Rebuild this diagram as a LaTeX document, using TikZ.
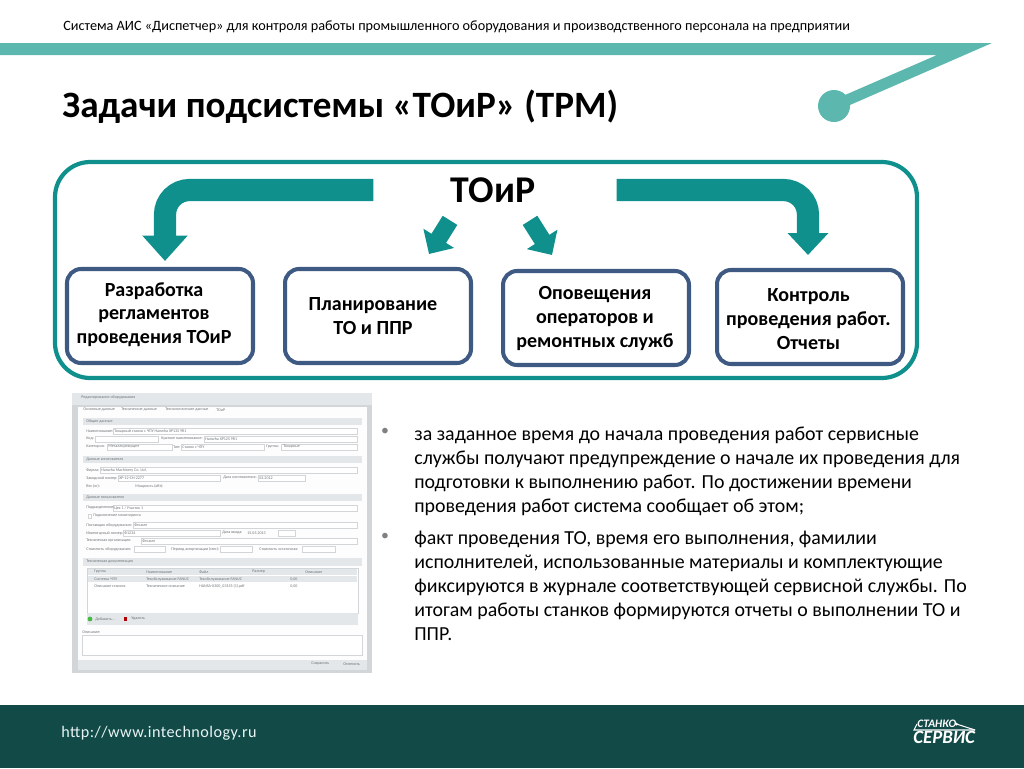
\documentclass[tikz,border=0pt]{standalone}
\usepackage{xcolor}
\usepackage{fontspec}
\setmainfont{Carlito}
\usetikzlibrary{arrows.meta, calc}
\definecolor{servisteal}{HTML}{0F908C}
\definecolor{servislight}{HTML}{5CB8AE}
\definecolor{servisdark}{HTML}{124A48}
\definecolor{servisblue}{HTML}{3F5A82}
\definecolor{scrgray}{HTML}{D3D6D8}
\definecolor{scrband}{HTML}{E3E7EA}
\definecolor{scrtext}{HTML}{6F7478}
\newcommand{\boxlines}[3]{\raisebox{#2}[0pt][0pt]{\begin{tabular}{@{}c@{}}#3\end{tabular}}\kern#1\relax}

\begin{document}
\begin{tikzpicture}[
  x=0.02cm, y=-0.02cm,
  taskbox/.style={draw=servisblue, line width=2.3pt, rounded corners=8pt, fill=white, minimum width=3.72cm, minimum height=1.88cm, font=\fontsize{11.4}{13.6}\selectfont\bfseries, inner sep=0pt},
  bigarr/.style={line width=12.6pt, servisteal, rounded corners=14pt, -{Triangle[length=14.5pt, width=25pt]}},
  smallarr/.style={line width=9.8pt, servisteal, -{Triangle[length=10.5pt, width=20pt]}},
  bodytxt/.style={anchor=north west, align=left, inner sep=0pt, font=\fontsize{11.33}{13.65}\selectfont},
  bullet/.style={anchor=center, inner sep=0pt, font=\fontsize{9}{9}\selectfont, text=black!50},
  scrlbl/.style={anchor=west, inner sep=0pt, text=scrtext, font=\fontsize{2.3}{2.3}\selectfont},
  scrband/.style={fill=scrband, draw=none},
  scrfield/.style={fill=white, draw=scrgray, line width=0.15pt}
]
\useasboundingbox (0,0) rectangle (1024,768);

\fill[servislight] (0,43) -- (992,43) -- (850,105) -- (845,95) -- (937,55) -- (0,55) -- cycle;
\fill[servislight] (834,106) circle (16);
\fill[servisdark] (0,705) rectangle (1024,768);

\node[anchor=west, inner sep=0pt, font=\fontsize{8.1}{10}\selectfont] (header) at (63,27) {Система АИС «Диспетчер» для контроля работы промышленного оборудования и производственного персонала на предприятии};
\node[anchor=west, inner sep=0pt, font=\fontsize{21.15}{24}\selectfont\bfseries] (title) at (62,107) {Задачи подсистемы «ТОиР» (ТРМ)};

\draw[servisteal, line width=2.4pt, rounded corners=20pt] (55,162) rectangle (917,378);

\node[inner sep=0pt, minimum height=0.8cm, font=\fontsize{21.5}{24}\selectfont\bfseries] (toir) at (493,190) {ТОиР};
\node[taskbox] (regl) at (160,316) {\boxlines{0.24cm}{-0.08cm}{Разработка\\ регламентов\\ проведения ТОиР}};
\node[taskbox] (plan) at (378,316) {\boxlines{0.2cm}{-0.13cm}{Планирование\\ ТО и ППР}};
\node[taskbox] (notify) at (596,318) {\boxlines{0.04cm}{-0.115cm}{Оповещения\\ операторов и\\ ремонтных служб}};
\node[taskbox] (report) at (810,317) {\boxlines{0.06cm}{-0.175cm}{Контроль\\ проведения работ.\\ Отчеты}};

\draw[bigarr, shorten <=77*0.02cm, shorten >=6*0.02cm] (toir.west) -| ($(regl.north)+(5,0)$);
\draw[bigarr, -{Triangle[length=12.5pt, width=22.5pt]}, shorten <=81*0.02cm, shorten >=13*0.02cm] (toir.east) -| ($(report.north)+(-2,0)$);
\draw[smallarr] ($(toir.south)+(-43,10)$) -- ($(plan.north)+(51,-13)$);
\draw[smallarr] ($(toir.south)+(37,10)$) -- ($(notify.north)+(-44,-14)$);

\node[bullet] (dot1) at (385,432) {•};
\node[bodytxt] (para1) at (414,427) {за заданное время до начала проведения работ сервисные\\ службы получают предупреждение о начале их проведения для\\ подготовки к выполнению работ. По достижении времени\\ проведения работ система сообщает об этом;};
\node[bullet] (dot2) at (385,537) {•};
\node[bodytxt] (para2) at (414,531) {факт проведения ТО, время его выполнения, фамилии\\ исполнителей, использованные материалы и комплектующие\\ фиксируются в журнале соответствующей сервисной службы. По\\ итогам работы станков формируются отчеты о выполнении ТО и\\ ППР.};

\node[anchor=west, inner sep=0pt, text=white!85!servislight, font=\fontsize{9.2}{10}\selectfont\addfontfeatures{LetterSpace=3}] (url) at (61,733) {http://www.intechnology.ru};
\node[anchor=west, inner sep=0pt, text=white, font=\fontsize{6.5}{7}\selectfont\bfseries\itshape] (logotop) at (917,724) {СТАНКО};
\node[anchor=west, inner sep=0pt, text=white, font=\fontsize{10.7}{12}\selectfont\bfseries\itshape] (logomain) at (913,737) {СЕРВИС};
\draw[white, line width=0.6pt] (logotop.east) -- (975,730);
\draw[white, line width=0.6pt] (logotop.west) -- (914,730) -- (975,730);
\fill[white] (logotop.east) circle (1.5);

% screenshot
\fill[scrgray] (72,393) rectangle (372,673);
\fill[white!96!scrgray] (78,407) rectangle (367,660);
\fill[scrband] (72,393) rectangle (372,405);
\node[scrlbl] (wintitle) at (81,397) {Редактирование оборудования};
\node[scrlbl] (tab1) at (83,410) {Основные данные};
\node[scrlbl] (tab2) at (121,410) {Технические данные};
\node[scrlbl] (tab3) at (165,410) {Технологические данные};
\node[scrlbl] (tab4) at (216,410) {ТОиР};

\fill[scrband] (83,418) rectangle (362,425);
\node[scrlbl] (grp1) at (86,421) {Общие данные};
\draw[scrfield] (113,428) rectangle (357,434);
\node[scrlbl] (name) at (86,431) {Наименование:};
\node[scrlbl] (nameval) at (114,431) {Токарный станок с ЧПУ Hanwha XP12S 9R1};
\draw[scrfield] (95,436) rectangle (158,442);
\draw[scrfield] (204,436) rectangle (357,442);
\node[scrlbl] (code) at (86,439) {Код:};
\node[scrlbl] (short) at (161,439) {Краткое наименование:};
\node[scrlbl] (shortval) at (205,439) {Hanwha XP12S 9R1};
\draw[scrfield] (107,444) rectangle (172,450);
\draw[scrfield] (181,444) rectangle (264,450);
\draw[scrfield] (281,444) rectangle (357,450);
\node[scrlbl] (cat) at (86,447) {Категория:};
\node[scrlbl] (catval) at (108,447) {Металлорежущее};
\node[scrlbl] (kind) at (173,447) {Тип:};
\node[scrlbl] (kindval) at (182,447) {Станок с ЧПУ};
\node[scrlbl] (grpname) at (266,447) {Группа:};
\node[scrlbl] (grpval) at (283,447) {Токарные};

\fill[scrband] (83,456) rectangle (362,463);
\node[scrlbl] (grp2) at (86,460) {Данные изготовителя};
\draw[scrfield] (100,467) rectangle (357,473);
\node[scrlbl] (firm) at (86,470) {Фирма:};
\node[scrlbl] (firmval) at (101,470) {Hanwha Machinery Co. Ltd.};
\draw[scrfield] (118,475) rectangle (220,481);
\draw[scrfield] (258,475) rectangle (305,481);
\node[scrlbl] (serial) at (86,478) {Заводской номер:};
\node[scrlbl] (serialval) at (119,478) {XP-12-CH-2277};
\node[scrlbl] (made) at (223,478) {Дата изготовления:};
\node[scrlbl] (madeval) at (259,478) {03.2012};
\node[scrlbl] (weight) at (86,486) {Вес (кг):};
\node[scrlbl] (power) at (135,486) {Мощность (кВт):};

\fill[scrband] (83,494) rectangle (362,501);
\node[scrlbl] (grp3) at (86,498) {Данные пользователя};
\draw[scrfield] (113,505) rectangle (357,511);
\node[scrlbl] (dept) at (86,508) {Подразделение:};
\node[scrlbl] (deptval) at (114,508) {Цех 1 / Участок 1};
\draw[scrfield] (88,514) rectangle (91,518);
\node[scrlbl] (monitor) at (93,516) {Подключение мониторинга};
\draw[scrfield] (133,522) rectangle (357,528);
\node[scrlbl] (supplier) at (86,525) {Поставщик оборудования:};
\node[scrlbl] (supval) at (134,525) {Фткамп};
\draw[scrfield] (123,530) rectangle (220,536);
\draw[scrfield] (278,530) rectangle (295,536);
\node[scrlbl] (inv) at (86,533) {Инвентарный номер:};
\node[scrlbl] (invval) at (124,533) {Ф1234};
\node[scrlbl] (start) at (222,533) {Дата ввода:};
\node[scrlbl] (startval) at (247,533) {15.05.2013};
\draw[scrfield] (141,538) rectangle (357,544);
\node[scrlbl] (org) at (86,541) {Техническая организация:};
\node[scrlbl] (orgval) at (142,541) {Фткамп};
\draw[scrfield] (134,546) rectangle (165,552);
\draw[scrfield] (220,546) rectangle (252,552);
\draw[scrfield] (302,546) rectangle (335,552);
\node[scrlbl] (cost) at (86,549) {Стоимость оборудования:};
\node[scrlbl] (amort) at (171,549) {Период амортизации (мес):};
\node[scrlbl] (rest) at (259,549) {Стоимость остаточная:};

\fill[scrband] (83,558) rectangle (362,566);
\node[scrlbl] (grp4) at (86,562) {Техническая документация};
\draw[scrfield] (87,568) rectangle (358,613);
\fill[scrband] (88,569) rectangle (357,575);
\fill[scrband] (88,576) rectangle (357,582);
\node[scrlbl] (col1) at (94,572) {Группа};
\node[scrlbl] (col2) at (146,572) {Наименование};
\node[scrlbl] (col3) at (199,572) {Файл};
\node[scrlbl] (col4) at (252,572) {Размер};
\node[scrlbl] (col5) at (305,572) {Описание};
\node[scrlbl] (row1a) at (94,579) {Системы ЧПУ};
\node[scrlbl] (row1b) at (146,579) {Техобслуживание FANUC};
\node[scrlbl] (row1c) at (199,579) {Техобслуживание FANUC};
\node[scrlbl] (row1d) at (290,579) {0,00};
\node[scrlbl] (row2a) at (94,586) {Описание станков};
\node[scrlbl] (row2b) at (146,586) {Техническое описание};
\node[scrlbl] (row2c) at (199,586) {HANSA-X300\_03155 (1).pdf};
\node[scrlbl] (row2d) at (290,586) {0,00};
\fill[scrband] (87,613) rectangle (358,625);
\fill[green!45!gray] (90,619) circle (2.4);
\node[scrlbl] (add) at (95,619) {Добавить...};
\fill[red!70!black] (124,617) rectangle (127,621);
\node[scrlbl] (del) at (131,619) {Удалить};
\node[scrlbl] (descr) at (82,632) {Описание:};
\draw[scrfield] (82,635) rectangle (362,655);
\fill[scrband] (78,660) rectangle (367,670);
\node[scrlbl] (save) at (311,664) {Сохранить};
\node[scrlbl] (cancel) at (343,664) {Отменить};
\end{tikzpicture}
\end{document}
